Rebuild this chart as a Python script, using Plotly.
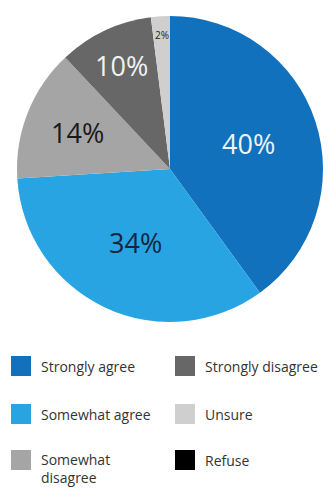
import math
import plotly.graph_objects as go

categories = ["Strongly agree", "Somewhat agree", "Somewhat disagree",
              "Strongly disagree", "Unsure", "Refuse"]
values = [40, 34, 14, 10, 2, 0]
legend_labels = ["Strongly agree", "Somewhat agree", "Somewhat<br>disagree",
                 "Strongly disagree", "Unsure", "Refuse"]

colors = ["#1271bd", "#29a4e2", "#a5a5a5", "#676767", "#cfcfcf", "#000000"]
label_colors = ["#eef4fa", "#14263c", "#1a1a1a", "#f2f2f2", "#222222", "#000000"]
label_sizes = [27, 27, 27, 27, 10, 10]
label_radius = [0.54, 0.53, 0.65, 0.75, 0.88, 0.9]  # fraction of radius for data labels

W, H = 334, 488
cx, cy, r = 170, 169, 153

fig = go.Figure()
fig.add_trace(go.Pie(
    labels=categories,
    values=values,
    textinfo="none",
    sort=False,
    direction="clockwise",
    rotation=0,
    marker=dict(colors=colors, line=dict(width=0)),
    showlegend=False,
    hoverinfo="label+percent",
    domain=dict(x=[(cx - r) / W, (cx + r) / W], y=[1 - (cy + r) / H, 1 - (cy - r) / H]),
))

annotations = []
# data labels placed at each slice's mid-angle (derived from the values)
total = sum(values)
cum = 0
for v, col, size, fr in zip(values, label_colors, label_sizes, label_radius):
    if v <= 0:
        cum += v
        continue
    mid = (cum + v / 2) / total * 2 * math.pi  # clockwise from 12 o'clock
    cum += v
    px = cx + fr * r * math.sin(mid)
    py = cy - fr * r * math.cos(mid)
    annotations.append(dict(xref="paper", yref="paper", x=px / W, y=1 - py / H,
                            xanchor="center", yanchor="middle",
                            text=f"{round(v / total * 100)}%", showarrow=False,
                            font=dict(family="Open Sans", size=size, color=col)))

# custom two-column legend (column-major order like the reference)
col_x = [11, 175]        # left edge of squares in px
row_y = [366, 414, 460]  # square centres in px
sq = 20
shapes = []
for i, (name, col) in enumerate(zip(legend_labels, colors)):
    c, rr = divmod(i, 3)
    x0 = col_x[c]
    yc = row_y[rr]
    shapes.append(dict(type="rect", xref="paper", yref="paper",
                       x0=x0 / W, x1=(x0 + sq) / W,
                       y0=1 - (yc + sq / 2) / H, y1=1 - (yc - sq / 2) / H,
                       fillcolor=col, line=dict(width=0)))
    multi = "<br>" in name
    annotations.append(dict(xref="paper", yref="paper", x=(x0 + sq + 8) / W,
                            y=1 - (yc + 8) / H if multi else 1 - yc / H,
                            xanchor="left", yanchor="middle",
                            text=name, showarrow=False, align="left",
                            font=dict(family="Open Sans", size=14, color="#333333")))

fig.update_layout(
    width=W, height=H,
    margin=dict(l=0, r=0, t=0, b=0),
    paper_bgcolor="white",
    plot_bgcolor="white",
    shapes=shapes,
    annotations=annotations,
)

fig.write_html("out.html", config={"displayModeBar": False},
               post_script="document.body.style.margin='0';document.body.style.padding='0';")
